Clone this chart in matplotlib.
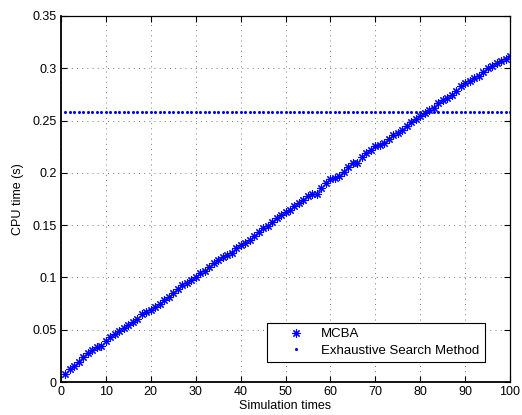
import matplotlib
matplotlib.use("Agg")
import matplotlib.pyplot as plt
import numpy as np

plt.rcParams['font.family'] = ['Liberation Sans', 'DejaVu Sans']

sim_times = list(range(1, 101))
mcba = [
    0.0073, 0.0124, 0.0156, 0.0194, 0.0242, 0.0274, 0.0310, 0.0330, 0.0344, 0.0390,
    0.0435, 0.0456, 0.0490, 0.0513, 0.0545, 0.0577, 0.0600, 0.0647, 0.0666, 0.0690,
    0.0717, 0.0746, 0.0787, 0.0816, 0.0850, 0.0890, 0.0927, 0.0950, 0.0975, 0.1000,
    0.1040, 0.1064, 0.1103, 0.1134, 0.1166, 0.1192, 0.1214, 0.1230, 0.1284, 0.1310,
    0.1332, 0.1357, 0.1396, 0.1437, 0.1469, 0.1492, 0.1533, 0.1565, 0.1597, 0.1630,
    0.1644, 0.1683, 0.1715, 0.1740, 0.1778, 0.1797, 0.1797, 0.1851, 0.1905, 0.1937,
    0.1947, 0.1969, 0.2010, 0.2058, 0.2096, 0.2096, 0.2154, 0.2186, 0.2218, 0.2256,
    0.2262, 0.2288, 0.2320, 0.2361, 0.2385, 0.2409, 0.2450, 0.2482, 0.2514, 0.2546,
    0.2568, 0.2597, 0.2622, 0.2664, 0.2696, 0.2718, 0.2743, 0.2782, 0.2833, 0.2855,
    0.2877, 0.2903, 0.2928, 0.2966, 0.2998, 0.3024, 0.3046, 0.3069, 0.3088, 0.3120,
]
exhaustive = [0.258] * 100

xticks = list(range(0, 101, 10))
yticks = [0, 0.05, 0.1, 0.15, 0.2, 0.25, 0.3, 0.35]
ytick_labels = ['0', '0.05', '0.1', '0.15', '0.2', '0.25', '0.3', '0.35']

fig = plt.figure(figsize=(5.22, 4.15), dpi=100)
ax = fig.add_axes([61/522, (415-382)/415, 449/522, 366/415])

ax.plot(sim_times, mcba, linestyle='none', marker=(8, 2, 0), markersize=6,
        markeredgewidth=0.8, color='#0000ff', label='MCBA')
ax.plot(sim_times, exhaustive, linestyle='none', marker='o', markersize=2.2,
        markeredgewidth=0, color='#0000ff', label='Exhaustive Search Method')

ax.set_xlim(0, 100)
ax.set_ylim(0, 0.35)
ax.set_xticks(xticks)
ax.set_yticks(yticks)
ax.set_yticklabels(ytick_labels)
ax.tick_params(direction='in', length=4, width=0.8, top=True, right=True,
               labelsize=9, pad=3)
ax.grid(True, linestyle=(0, (1.2, 5)), linewidth=0.6, color='#666666')
for side, s in ax.spines.items():
    s.set_linewidth(1.3 if side in ('left', 'bottom') else 0.9)

ax.set_xlabel('Simulation times', fontsize=9, labelpad=1)
ax.set_ylabel('CPU time (s)', fontsize=9, labelpad=6)

leg = ax.legend(loc='lower right', bbox_to_anchor=(0.944, 0.055), fontsize=9.5,
                fancybox=False, edgecolor='black', framealpha=1,
                borderaxespad=0, handlelength=3.6, handletextpad=0.1,
                borderpad=0.4, labelspacing=0.3)
leg.get_frame().set_linewidth(0.8)

fig.savefig('out.png', dpi=100)
